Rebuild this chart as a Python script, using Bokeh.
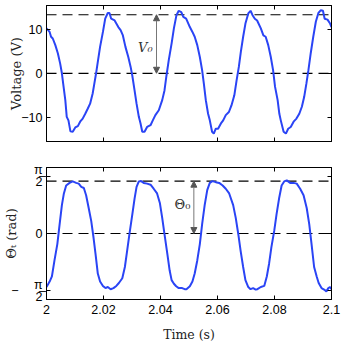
import math
from bokeh.plotting import figure
from bokeh.layouts import column
from bokeh.models import (Range1d, LinearAxis, FixedTicker, CustomJSTickFormatter,
                          Span, Label, Arrow, NormalHead)
from bokeh.embed import file_html
from bokeh.resources import INLINE

# ---------------- data ----------------
t_voltage = [2.0000, 2.0011, 2.0016, 2.0022, 2.0031, 2.0040, 2.0048, 2.0054, 2.0060, 2.0066,
             2.0071, 2.0077, 2.0084, 2.0092, 2.0101, 2.0110, 2.0118, 2.0127, 2.0136, 2.0145,
             2.0153, 2.0162, 2.0168, 2.0174, 2.0180, 2.0188, 2.0198, 2.0206, 2.0215, 2.0221,
             2.0227, 2.0239, 2.0252, 2.0260, 2.0268, 2.0277, 2.0287, 2.0295, 2.0301, 2.0309,
             2.0316, 2.0324, 2.0330, 2.0336, 2.0344, 2.0353, 2.0365, 2.0373, 2.0382, 2.0394,
             2.0406, 2.0414, 2.0421, 2.0429, 2.0439, 2.0447, 2.0456, 2.0464, 2.0473, 2.0480,
             2.0490, 2.0503, 2.0512, 2.0520, 2.0529, 2.0538, 2.0546, 2.0552, 2.0559, 2.0567,
             2.0573, 2.0581, 2.0587, 2.0594, 2.0602, 2.0612, 2.0620, 2.0629, 2.0640, 2.0649,
             2.0659, 2.0667, 2.0675, 2.0682, 2.0690, 2.0698, 2.0708, 2.0716, 2.0723, 2.0731,
             2.0739, 2.0752, 2.0761, 2.0769, 2.0778, 2.0787, 2.0795, 2.0802, 2.0811, 2.0817,
             2.0822, 2.0832, 2.0840, 2.0848, 2.0857, 2.0867, 2.0877, 2.0887, 2.0896, 2.0904,
             2.0912, 2.0919, 2.0927, 2.0936, 2.0945, 2.0954, 2.0962, 2.0970, 2.0976, 2.0986,
             2.0995, 2.1000]
voltage = [10.2, 9.4, 8.3, 7.9, 6.4, 4.5, 2.2, 0.0, -3.1, -6.1,
           -9.9, -10.7, -13.2, -13.3, -12.3, -12.0, -11.0, -10.3, -9.2, -8.0,
           -6.9, -4.6, -2.3, 0.0, 2.6, 6.0, 9.4, 12.4, 13.7, 13.7,
           12.4, 12.0, 10.5, 9.8, 8.6, 6.0, 3.7, 1.5, -0.5, -3.9,
           -6.9, -9.9, -11.4, -13.3, -13.3, -12.2, -11.8, -10.7, -9.5, -8.4,
           -6.1, -3.9, -0.5, 3.0, 6.8, 10.2, 13.2, 14.2, 13.9, 12.8,
           12.4, 10.5, 9.4, 8.3, 6.4, 3.7, 0.7, -2.3, -6.1, -9.2,
           -10.7, -13.3, -13.7, -12.6, -12.6, -11.4, -10.7, -9.5, -8.8, -7.3,
           -5.0, -1.6, 1.5, 4.9, 8.3, 11.3, 13.6, 14.2, 13.2, 12.4,
           12.0, 10.2, 8.6, 8.3, 6.4, 3.7, 0.7, -3.1, -6.1, -9.2,
           -10.7, -13.3, -13.7, -12.6, -12.2, -11.0, -10.3, -9.2, -7.6, -5.4,
           -2.3, 0.7, 4.5, 8.3, 11.7, 13.7, 14.3, 14.2, 12.4, 12.2,
           11.3, 10.5]

t_theta = [2.0000, 2.0011, 2.0019, 2.0028, 2.0038, 2.0046, 2.0054, 2.0061, 2.0069, 2.0081,
           2.0092, 2.0104, 2.0113, 2.0122, 2.0131, 2.0139, 2.0148, 2.0157, 2.0165, 2.0172,
           2.0180, 2.0188, 2.0198, 2.0207, 2.0215, 2.0225, 2.0235, 2.0245, 2.0254, 2.0266,
           2.0275, 2.0283, 2.0291, 2.0301, 2.0309, 2.0316, 2.0324, 2.0332, 2.0341, 2.0353,
           2.0365, 2.0376, 2.0388, 2.0398, 2.0406, 2.0414, 2.0424, 2.0432, 2.0439, 2.0447,
           2.0455, 2.0464, 2.0476, 2.0485, 2.0491, 2.0503, 2.0512, 2.0520, 2.0529, 2.0538,
           2.0546, 2.0555, 2.0564, 2.0573, 2.0582, 2.0594, 2.0606, 2.0618, 2.0629, 2.0641,
           2.0655, 2.0664, 2.0673, 2.0681, 2.0690, 2.0698, 2.0708, 2.0716, 2.0725, 2.0734,
           2.0740, 2.0752, 2.0764, 2.0773, 2.0781, 2.0789, 2.0799, 2.0807, 2.0816, 2.0825,
           2.0834, 2.0843, 2.0855, 2.0867, 2.0878, 2.0890, 2.0902, 2.0913, 2.0922, 2.0930,
           2.0939, 2.0948, 2.0955, 2.0965, 2.0974, 2.0982, 2.0989, 2.0995, 2.1000]
theta = [-1.47, -1.32, -1.18, -0.74, -0.29, 0.25, 0.78, 1.10, 1.32, 1.39,
         1.43, 1.39, 1.37, 1.28, 1.25, 1.05, 0.70, 0.34, -0.11, -0.56,
         -1.10, -1.32, -1.44, -1.50, -1.47, -1.53, -1.50, -1.44, -1.36, -1.23,
         -0.92, -0.47, -0.02, 0.52, 0.96, 1.28, 1.43, 1.44, 1.39, 1.37,
         1.34, 1.23, 1.10, 0.83, 0.43, -0.02, -0.56, -1.01, -1.28, -1.38,
         -1.45, -1.50, -1.50, -1.53, -1.53, -1.45, -1.32, -1.10, -0.74, -0.29,
         0.25, 0.78, 1.19, 1.39, 1.44, 1.41, 1.39, 1.32, 1.23, 1.10,
         0.78, 0.43, -0.02, -0.47, -0.92, -1.28, -1.47, -1.53, -1.50, -1.54,
         -1.53, -1.47, -1.44, -1.18, -0.83, -0.38, 0.07, 0.52, 0.96, 1.32,
         1.43, 1.46, 1.39, 1.39, 1.37, 1.23, 1.05, 0.70, 0.25, -0.29,
         -0.92, -1.18, -1.36, -1.50, -1.54, -1.59, -1.50, -1.47, -1.53]

V0 = 13.3
THETA0 = 1.437
x_ticks = [2.0, 2.02, 2.04, 2.06, 2.08, 2.1]
v_ticks = [-10, 0, 10]
theta_ticks = [-math.pi / 2, 0, math.pi / 2]

# ---------------- styling ----------------
W = 342
FRAME_W = 285
LEFT = 46
RIGHT = W - LEFT - FRAME_W
BLUE = "#2a44f5"
TICK_FONT = "Liberation Sans"
LABEL_FONT = "DejaVu Serif"
TICK_SIZE = "12.5px"

X_FMT = "return Number(tick.toFixed(2)).toString();"
V_FMT = "return tick < 0 ? '\u2212' + Math.abs(tick) : tick.toString();"
TH_FMT = "return Math.abs(tick) < 1e-9 ? '0' : '\u03c0\u0332\\n2';"
MINUS_FMT = "return tick < -1 ? '\u2212' : '';"
NONE_FMT = "return '';"


def style_axis(ax, ticks, code, show, standoff=4):
    ax.ticker = FixedTicker(ticks=ticks)
    ax.formatter = CustomJSTickFormatter(code=code)
    ax.major_tick_in = 4
    ax.major_tick_out = 0
    ax.minor_tick_line_color = None
    ax.axis_line_color = "black"
    ax.major_tick_line_color = "black"
    ax.major_label_text_font = TICK_FONT
    ax.major_label_text_color = "black"
    if show:
        ax.major_label_text_font_size = TICK_SIZE
        ax.major_label_standoff = standoff
    else:
        ax.major_label_text_font_size = "0px"
        ax.major_label_standoff = 0
    ax.axis_label_standoff = 0
    ax.axis_label_text_font = LABEL_FONT
    ax.axis_label_text_font_style = "normal"
    ax.axis_label_text_color = "#222222"
    ax.axis_label_text_font_size = "13px"
    return ax


def make_fig(height, top, bottom, y_range):
    p = figure(width=W, height=height, output_backend="svg", toolbar_location=None,
               x_range=Range1d(2.0, 2.1), y_range=y_range,
               x_axis_location=None, y_axis_location=None,
               min_border_left=LEFT, min_border_right=RIGHT,
               min_border_top=top, min_border_bottom=bottom)
    p.xgrid.visible = False
    p.ygrid.visible = False
    p.outline_line_color = "black"
    p.outline_line_width = 1
    p.outline_line_alpha = 1
    p.background_fill_color = "white"
    p.border_fill_color = "white"
    return p


def text(p, x, y, s, style="normal"):
    p.add_layout(Label(x=x, y=y, text=s, text_font=LABEL_FONT, text_font_size="13px",
                       text_font_style=style, text_color="#333333",
                       text_align="center", text_baseline="middle"))


# ---------------- top panel: voltage ----------------
p1 = make_fig(153, 5, 12, Range1d(-15.5, 15.4))
p1.add_layout(style_axis(LinearAxis(), x_ticks, NONE_FMT, False), "below")
yl = style_axis(LinearAxis(), v_ticks, V_FMT, True)
yl.axis_label = "Voltage (V)"
yl.axis_label_standoff = -6
p1.add_layout(yl, "left")
p1.add_layout(style_axis(LinearAxis(), v_ticks, NONE_FMT, False), "right")
p1.add_layout(style_axis(LinearAxis(), x_ticks, NONE_FMT, False), "above")

for loc in (V0, 0):
    p1.add_layout(Span(location=loc, dimension="width", line_color="black",
                       line_width=1.2, line_dash="10 6", level="underlay"))
p1.line(t_voltage, voltage, line_color=BLUE, line_width=2)

head = dict(size=6, fill_color="#555555", line_color="#555555", line_width=1)
p1.add_layout(Arrow(x_start=2.0386, y_start=0, x_end=2.0386, y_end=V0,
                    start=NormalHead(**head), end=NormalHead(**head),
                    line_color="#777777", line_width=1))
text(p1, 2.0347, 5.9, "V₀", style="italic")

# ---------------- bottom panel: theta ----------------
p2 = make_fig(191, 14, 42, Range1d(-1.813, 1.813))
xb = style_axis(LinearAxis(), x_ticks, X_FMT, True, standoff=5)
xb.axis_label = "Time (s)"
xb.axis_label_text_font_size = "12.5px"
xb.axis_label_standoff = 10
p2.add_layout(xb, "below")

inner = style_axis(LinearAxis(), theta_ticks, TH_FMT, True)
inner.major_label_text_line_height = 0.85
p2.add_layout(inner, "left")
outer = style_axis(LinearAxis(), theta_ticks, MINUS_FMT, True, standoff=12)
outer.major_tick_line_color = None
outer.axis_line_color = None
outer.axis_label = "Θₜ (rad)"
outer.axis_label_standoff = -11
p2.add_layout(outer, "left")
p2.add_layout(style_axis(LinearAxis(), theta_ticks, NONE_FMT, False), "right")
p2.add_layout(style_axis(LinearAxis(), x_ticks, NONE_FMT, False), "above")

for loc in (THETA0, 0):
    p2.add_layout(Span(location=loc, dimension="width", line_color="black",
                       line_width=1.2, line_dash="10 6", level="underlay"))
p2.line(t_theta, theta, line_color=BLUE, line_width=2)

p2.add_layout(Arrow(x_start=2.0517, y_start=0, x_end=2.0517, y_end=THETA0,
                    start=NormalHead(**head), end=NormalHead(**head),
                    line_color="#777777", line_width=1))
text(p2, 2.0477, 0.79, "Θ₀")

layout = column(p1, p2, spacing=0)
open("out.html", "w").write(file_html(layout, INLINE))
